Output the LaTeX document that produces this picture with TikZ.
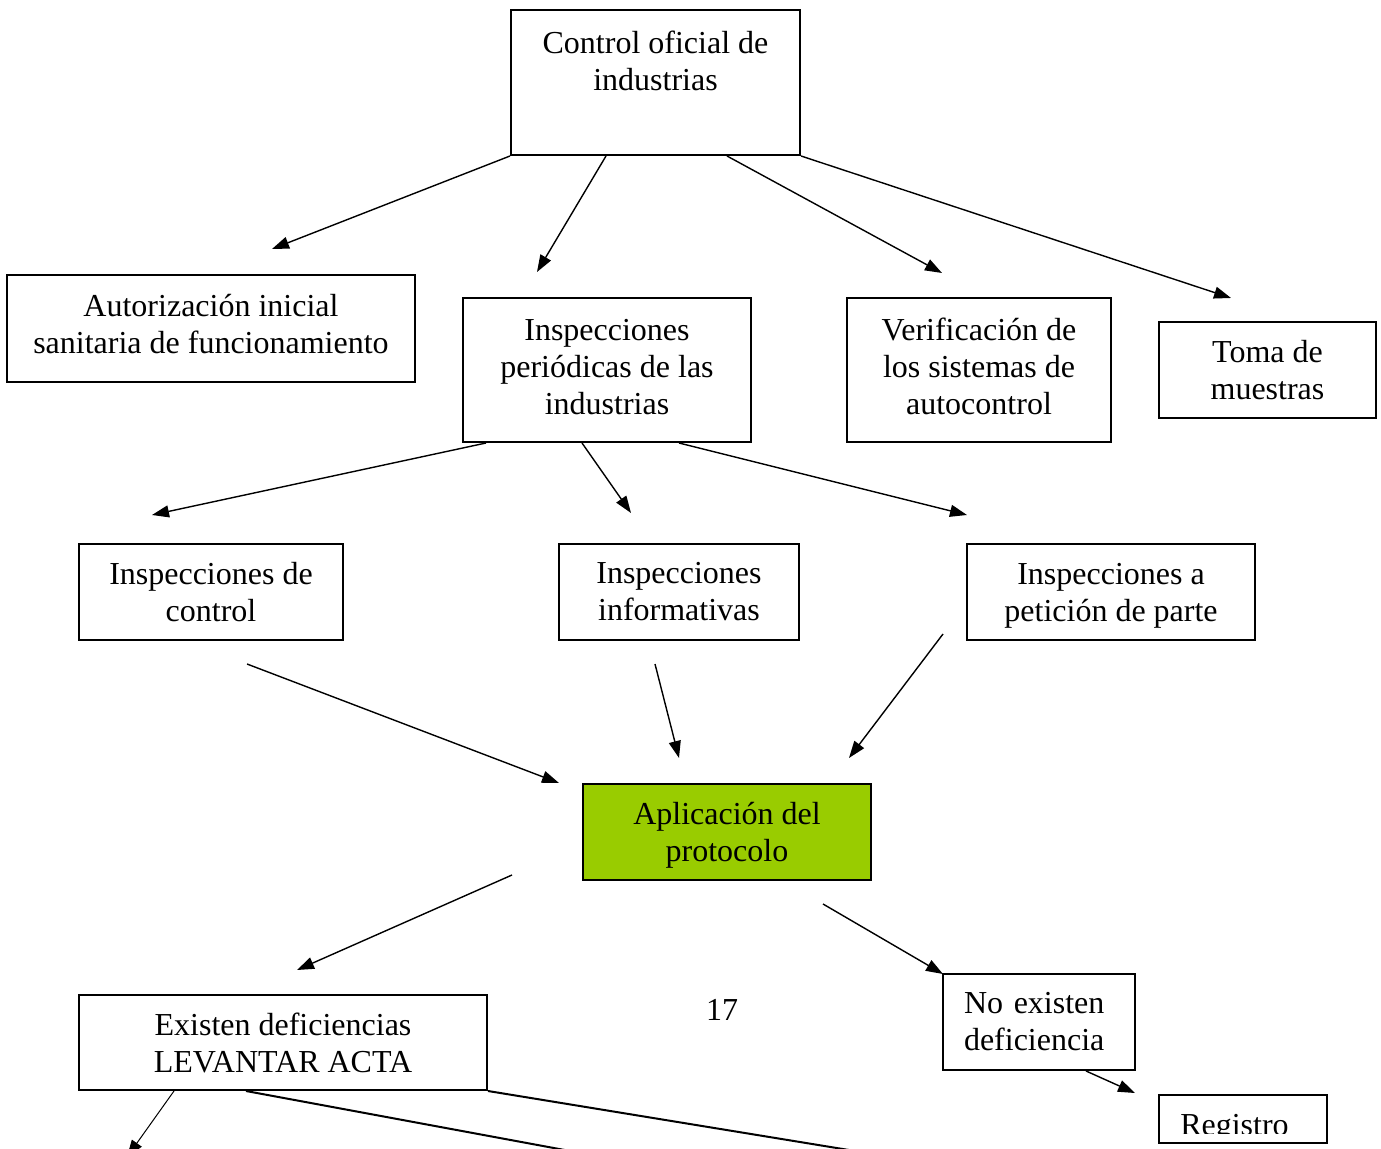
\documentclass[tikz,border=0pt]{standalone}
\usepackage{fontspec}
\setmainfont{Liberation Serif}
\usepackage{xcolor}
\usetikzlibrary{arrows.meta}
\definecolor{protgreen}{HTML}{99CC00}

\begin{document}
\begin{tikzpicture}[x=0.5pt, y=-0.5pt, ->, >={Triangle[length=8.5pt,width=6pt]}, line width=0.7pt,
    txt/.style={font=\fontsize{16}{18.5}\selectfont},
    box/.style={txt, draw, -, line width=1pt, align=center, inner sep=0pt},
    greenbox/.style={box, fill=protgreen}]
  \useasboundingbox (0,0) rectangle (1381,1149);
  \clip (0,0) rectangle (1381,1149);

  \node[box, minimum width=144.5pt, minimum height=72.5pt, text depth=22pt] (top)  at (655.5,82.5) {Control oficial de\\industrias};
  \node[box, minimum width=204pt,   minimum height=53.5pt, text depth=5pt] (aut)  at (211,328.5)  {Autorización inicial\\sanitaria de funcionamiento};
  \node[box, minimum width=144pt,   minimum height=72pt, text depth=3.5pt]   (per)  at (607,370)    {Inspecciones\\periódicas de las\\industrias};
  \node[box, minimum width=132pt,   minimum height=72pt, text depth=3.5pt]   (ver)  at (979,370)    {Verificación de\\los sistemas de\\autocontrol};
  \node[box, minimum width=108.5pt, minimum height=48pt]   (toma) at (1267.5,370) {Toma de\\muestras};
  \node[box, minimum width=132pt,   minimum height=48pt]   (ctrl) at (211,592)    {Inspecciones de\\control};
  \node[box, minimum width=120pt,   minimum height=48pt]   (info) at (679,592)    {Inspecciones\\informativas};
  \node[box, minimum width=144pt,   minimum height=48pt, text depth=0pt]   (pet)  at (1111,592)   {Inspecciones a\\petición de parte};
  \node[greenbox, minimum width=144pt, minimum height=48pt, text depth=0pt] (apl) at (727,832)    {Aplicación del\\protocolo};
  \node[box, minimum width=204pt,   minimum height=47.5pt] (exi)  at (283,1042.5) {Existen deficiencias\\LEVANTAR ACTA};
  \node[box, minimum width=96pt,    minimum height=48pt, text width=75pt, align=left] (noex) at (1039,1022) {No existen\\deficiencia};
  \node[box, minimum width=84pt,    minimum height=24pt]   (reg)  at (1243,1119)  {};
  \begin{scope}
    \clip (1160,1096) rectangle (1326,1133);
    \node[txt, anchor=base] (regtxt) at (1234.5,1135) {Registro};
  \end{scope}
  \node[txt] (pg) at (722,1010) {17};

  % free ends
  \coordinate (e1) at (272,249);
  \coordinate (e2) at (537,272);
  \coordinate (e3) at (942,273);
  \coordinate (e4) at (1231,298);
  \coordinate (e5) at (152,515);
  \coordinate (e6) at (631,513);
  \coordinate (e7) at (967,515);
  \coordinate (s8) at (247,664);   \coordinate (e8)  at (559,783);
  \coordinate (s9) at (655,664);   \coordinate (e9)  at (679,758);
  \coordinate (s10) at (943,634);  \coordinate (e10) at (849,758);
  \coordinate (s11) at (512,875);  \coordinate (e11) at (297,970);
  \coordinate (s12) at (823,904);  \coordinate (e12) at (943,974);
  \coordinate (e13) at (1135,1093);
  \coordinate (e14) at (127,1157);
  \coordinate (e15) at (570,1151);
  \coordinate (e16) at (855,1151);

  \path (top.south west)               edge (e1)
        ([xshift=48pt]top.south west)  edge (e2)
        ([xshift=108.5pt]top.south west) edge (e3)
        (top.south east)               edge (e4)
        ([xshift=12pt]per.south west)  edge (e5)
        ([xshift=60pt]per.south west)  edge (e6)
        ([xshift=108.5pt]per.south west) edge (e7)
        (s8)  edge (e8)
        (s9)  edge (e9)
        (s10) edge (e10)
        (s11) edge (e11)
        (s12) edge (e12)
        ([xshift=72pt]noex.south west) edge (e13)
        ([xshift=48pt]exi.south west)  edge [line width=0.5pt] (e14)
        ([xshift=84pt]exi.south west)  edge [-, line width=1pt] (e15)
        (exi.south east)               edge [-, line width=1pt] (e16);
\end{tikzpicture}
\end{document}
